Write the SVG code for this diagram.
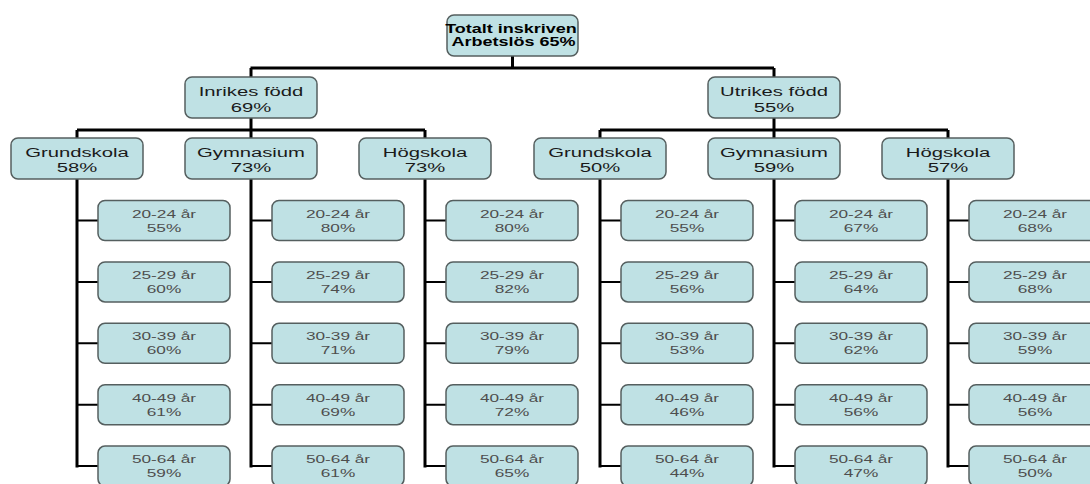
<svg xmlns="http://www.w3.org/2000/svg" width="1090" height="484" viewBox="0 0 1090 484">
<style>
.bx{fill:#bfe1e4;stroke:#555f5f;stroke-width:1.5}
.t{font-family:"Liberation Sans",Arial,sans-serif;text-anchor:middle}
.tr{font-size:12px;font-weight:bold;fill:#000}
.tm{font-size:13.5px;fill:#1a1a1a}
.tl{font-size:11.5px;fill:#4e4e4e}
.c{fill:none;stroke:#000;stroke-width:3}
.ct{fill:none;stroke:#000;stroke-width:2}
</style>
<rect width="1090" height="484" fill="#fff"/>
<g id="connectors">
<path class="c" d="M512.5 56V68M250.5 68H774M251 68V77M774 68V77"/>
<path class="c" d="M251 118V130M77 130H425M77 130V138M251 130V138M425 130V138"/>
<path class="c" d="M774 118V130M600 130H948M600 130V138M774 130V138M948 130V138"/>
<path class="c" d="M77 179V467.5M251 179V467.5M425 179V467.5M600 179V467.5M774 179V467.5M948 179V467.5"/>
<path class="ct" d="M77 220.5H98M77 281.9H98M77 343.3H98M77 404.7H98M77 466.1H98"/>
<path class="ct" d="M251 220.5H272M251 281.9H272M251 343.3H272M251 404.7H272M251 466.1H272"/>
<path class="ct" d="M425 220.5H446M425 281.9H446M425 343.3H446M425 404.7H446M425 466.1H446"/>
<path class="ct" d="M600 220.5H621M600 281.9H621M600 343.3H621M600 404.7H621M600 466.1H621"/>
<path class="ct" d="M774 220.5H795M774 281.9H795M774 343.3H795M774 404.7H795M774 466.1H795"/>
<path class="ct" d="M948 220.5H969M948 281.9H969M948 343.3H969M948 404.7H969M948 466.1H969"/>
</g>
<g id="root"><rect class="bx" x="447" y="15" width="131" height="41" rx="7"/>
<text class="t tr" transform="matrix(1.5 0 0 1 511 32.7)">Totalt inskriven</text>
<text class="t tr" transform="matrix(1.5 0 0 1 513.5 46)">Arbetslös 65%</text></g>
<g id="inrikes"><rect class="bx" x="185" y="77" width="132" height="41" rx="7"/>
<text class="t tm" transform="matrix(1.5 0 0 1 251 95.5)">Inrikes född</text>
<text class="t tm" transform="matrix(1.5 0 0 1 251 111.5)">69%</text></g>
<g id="utrikes"><rect class="bx" x="708" y="77" width="132" height="41" rx="7"/>
<text class="t tm" transform="matrix(1.5 0 0 1 774 95.5)">Utrikes född</text>
<text class="t tm" transform="matrix(1.5 0 0 1 774 111.5)">55%</text></g>
<g id="i-grund"><rect class="bx" x="11" y="138" width="132" height="41" rx="7"/>
<text class="t tm" transform="matrix(1.5 0 0 1 77 156.5)">Grundskola</text>
<text class="t tm" transform="matrix(1.5 0 0 1 77 172)">58%</text></g>
<g id="i-gymn"><rect class="bx" x="185" y="138" width="132" height="41" rx="7"/>
<text class="t tm" transform="matrix(1.5 0 0 1 251 156.5)">Gymnasium</text>
<text class="t tm" transform="matrix(1.5 0 0 1 251 172)">73%</text></g>
<g id="i-hog"><rect class="bx" x="359" y="138" width="132" height="41" rx="7"/>
<text class="t tm" transform="matrix(1.5 0 0 1 425 156.5)">Högskola</text>
<text class="t tm" transform="matrix(1.5 0 0 1 425 172)">73%</text></g>
<g id="u-grund"><rect class="bx" x="534" y="138" width="132" height="41" rx="7"/>
<text class="t tm" transform="matrix(1.5 0 0 1 600 156.5)">Grundskola</text>
<text class="t tm" transform="matrix(1.5 0 0 1 600 172)">50%</text></g>
<g id="u-gymn"><rect class="bx" x="708" y="138" width="132" height="41" rx="7"/>
<text class="t tm" transform="matrix(1.5 0 0 1 774 156.5)">Gymnasium</text>
<text class="t tm" transform="matrix(1.5 0 0 1 774 172)">59%</text></g>
<g id="u-hog"><rect class="bx" x="882" y="138" width="132" height="41" rx="7"/>
<text class="t tm" transform="matrix(1.5 0 0 1 948 156.5)">Högskola</text>
<text class="t tm" transform="matrix(1.5 0 0 1 948 172)">57%</text></g>

<g id="ig-1"><rect class="bx" x="98" y="200.5" width="132" height="40" rx="7"/><text class="t tl" transform="matrix(1.5 0 0 1 164 217.5)">20-24 år</text><text class="t tl" transform="matrix(1.5 0 0 1 164 231.5)">55%</text></g>
<g id="ig-2"><rect class="bx" x="98" y="261.9" width="132" height="40" rx="7"/><text class="t tl" transform="matrix(1.5 0 0 1 164 278.9)">25-29 år</text><text class="t tl" transform="matrix(1.5 0 0 1 164 292.9)">60%</text></g>
<g id="ig-3"><rect class="bx" x="98" y="323.3" width="132" height="40" rx="7"/><text class="t tl" transform="matrix(1.5 0 0 1 164 340.3)">30-39 år</text><text class="t tl" transform="matrix(1.5 0 0 1 164 354.3)">60%</text></g>
<g id="ig-4"><rect class="bx" x="98" y="384.7" width="132" height="40" rx="7"/><text class="t tl" transform="matrix(1.5 0 0 1 164 401.7)">40-49 år</text><text class="t tl" transform="matrix(1.5 0 0 1 164 415.7)">61%</text></g>
<g id="ig-5"><rect class="bx" x="98" y="446.1" width="132" height="40" rx="7"/><text class="t tl" transform="matrix(1.5 0 0 1 164 463.1)">50-64 år</text><text class="t tl" transform="matrix(1.5 0 0 1 164 477.1)">59%</text></g>

<g id="iy-1"><rect class="bx" x="272" y="200.5" width="132" height="40" rx="7"/><text class="t tl" transform="matrix(1.5 0 0 1 338 217.5)">20-24 år</text><text class="t tl" transform="matrix(1.5 0 0 1 338 231.5)">80%</text></g>
<g id="iy-2"><rect class="bx" x="272" y="261.9" width="132" height="40" rx="7"/><text class="t tl" transform="matrix(1.5 0 0 1 338 278.9)">25-29 år</text><text class="t tl" transform="matrix(1.5 0 0 1 338 292.9)">74%</text></g>
<g id="iy-3"><rect class="bx" x="272" y="323.3" width="132" height="40" rx="7"/><text class="t tl" transform="matrix(1.5 0 0 1 338 340.3)">30-39 år</text><text class="t tl" transform="matrix(1.5 0 0 1 338 354.3)">71%</text></g>
<g id="iy-4"><rect class="bx" x="272" y="384.7" width="132" height="40" rx="7"/><text class="t tl" transform="matrix(1.5 0 0 1 338 401.7)">40-49 år</text><text class="t tl" transform="matrix(1.5 0 0 1 338 415.7)">69%</text></g>
<g id="iy-5"><rect class="bx" x="272" y="446.1" width="132" height="40" rx="7"/><text class="t tl" transform="matrix(1.5 0 0 1 338 463.1)">50-64 år</text><text class="t tl" transform="matrix(1.5 0 0 1 338 477.1)">61%</text></g>

<g id="ih-1"><rect class="bx" x="446" y="200.5" width="132" height="40" rx="7"/><text class="t tl" transform="matrix(1.5 0 0 1 512 217.5)">20-24 år</text><text class="t tl" transform="matrix(1.5 0 0 1 512 231.5)">80%</text></g>
<g id="ih-2"><rect class="bx" x="446" y="261.9" width="132" height="40" rx="7"/><text class="t tl" transform="matrix(1.5 0 0 1 512 278.9)">25-29 år</text><text class="t tl" transform="matrix(1.5 0 0 1 512 292.9)">82%</text></g>
<g id="ih-3"><rect class="bx" x="446" y="323.3" width="132" height="40" rx="7"/><text class="t tl" transform="matrix(1.5 0 0 1 512 340.3)">30-39 år</text><text class="t tl" transform="matrix(1.5 0 0 1 512 354.3)">79%</text></g>
<g id="ih-4"><rect class="bx" x="446" y="384.7" width="132" height="40" rx="7"/><text class="t tl" transform="matrix(1.5 0 0 1 512 401.7)">40-49 år</text><text class="t tl" transform="matrix(1.5 0 0 1 512 415.7)">72%</text></g>
<g id="ih-5"><rect class="bx" x="446" y="446.1" width="132" height="40" rx="7"/><text class="t tl" transform="matrix(1.5 0 0 1 512 463.1)">50-64 år</text><text class="t tl" transform="matrix(1.5 0 0 1 512 477.1)">65%</text></g>

<g id="ug-1"><rect class="bx" x="621" y="200.5" width="132" height="40" rx="7"/><text class="t tl" transform="matrix(1.5 0 0 1 687 217.5)">20-24 år</text><text class="t tl" transform="matrix(1.5 0 0 1 687 231.5)">55%</text></g>
<g id="ug-2"><rect class="bx" x="621" y="261.9" width="132" height="40" rx="7"/><text class="t tl" transform="matrix(1.5 0 0 1 687 278.9)">25-29 år</text><text class="t tl" transform="matrix(1.5 0 0 1 687 292.9)">56%</text></g>
<g id="ug-3"><rect class="bx" x="621" y="323.3" width="132" height="40" rx="7"/><text class="t tl" transform="matrix(1.5 0 0 1 687 340.3)">30-39 år</text><text class="t tl" transform="matrix(1.5 0 0 1 687 354.3)">53%</text></g>
<g id="ug-4"><rect class="bx" x="621" y="384.7" width="132" height="40" rx="7"/><text class="t tl" transform="matrix(1.5 0 0 1 687 401.7)">40-49 år</text><text class="t tl" transform="matrix(1.5 0 0 1 687 415.7)">46%</text></g>
<g id="ug-5"><rect class="bx" x="621" y="446.1" width="132" height="40" rx="7"/><text class="t tl" transform="matrix(1.5 0 0 1 687 463.1)">50-64 år</text><text class="t tl" transform="matrix(1.5 0 0 1 687 477.1)">44%</text></g>

<g id="uy-1"><rect class="bx" x="795" y="200.5" width="132" height="40" rx="7"/><text class="t tl" transform="matrix(1.5 0 0 1 861 217.5)">20-24 år</text><text class="t tl" transform="matrix(1.5 0 0 1 861 231.5)">67%</text></g>
<g id="uy-2"><rect class="bx" x="795" y="261.9" width="132" height="40" rx="7"/><text class="t tl" transform="matrix(1.5 0 0 1 861 278.9)">25-29 år</text><text class="t tl" transform="matrix(1.5 0 0 1 861 292.9)">64%</text></g>
<g id="uy-3"><rect class="bx" x="795" y="323.3" width="132" height="40" rx="7"/><text class="t tl" transform="matrix(1.5 0 0 1 861 340.3)">30-39 år</text><text class="t tl" transform="matrix(1.5 0 0 1 861 354.3)">62%</text></g>
<g id="uy-4"><rect class="bx" x="795" y="384.7" width="132" height="40" rx="7"/><text class="t tl" transform="matrix(1.5 0 0 1 861 401.7)">40-49 år</text><text class="t tl" transform="matrix(1.5 0 0 1 861 415.7)">56%</text></g>
<g id="uy-5"><rect class="bx" x="795" y="446.1" width="132" height="40" rx="7"/><text class="t tl" transform="matrix(1.5 0 0 1 861 463.1)">50-64 år</text><text class="t tl" transform="matrix(1.5 0 0 1 861 477.1)">47%</text></g>

<g id="uh-1"><rect class="bx" x="969" y="200.5" width="132" height="40" rx="7"/><text class="t tl" transform="matrix(1.5 0 0 1 1035 217.5)">20-24 år</text><text class="t tl" transform="matrix(1.5 0 0 1 1035 231.5)">68%</text></g>
<g id="uh-2"><rect class="bx" x="969" y="261.9" width="132" height="40" rx="7"/><text class="t tl" transform="matrix(1.5 0 0 1 1035 278.9)">25-29 år</text><text class="t tl" transform="matrix(1.5 0 0 1 1035 292.9)">68%</text></g>
<g id="uh-3"><rect class="bx" x="969" y="323.3" width="132" height="40" rx="7"/><text class="t tl" transform="matrix(1.5 0 0 1 1035 340.3)">30-39 år</text><text class="t tl" transform="matrix(1.5 0 0 1 1035 354.3)">59%</text></g>
<g id="uh-4"><rect class="bx" x="969" y="384.7" width="132" height="40" rx="7"/><text class="t tl" transform="matrix(1.5 0 0 1 1035 401.7)">40-49 år</text><text class="t tl" transform="matrix(1.5 0 0 1 1035 415.7)">56%</text></g>
<g id="uh-5"><rect class="bx" x="969" y="446.1" width="132" height="40" rx="7"/><text class="t tl" transform="matrix(1.5 0 0 1 1035 463.1)">50-64 år</text><text class="t tl" transform="matrix(1.5 0 0 1 1035 477.1)">50%</text></g>
</svg>
